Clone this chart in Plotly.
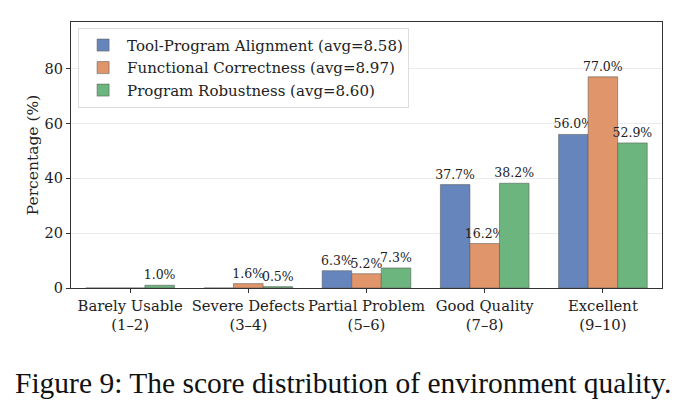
import plotly.graph_objects as go

categories = ["Barely Usable<br>(1–2)", "Severe Defects<br>(3–4)", "Partial Problem<br>(5–6)",
              "Good Quality<br>(7–8)", "Excellent<br>(9–10)"]
series_names = ["Tool-Program Alignment (avg=8.58)",
                "Functional Correctness (avg=8.97)",
                "Program Robustness (avg=8.60)"]
alignment = [0.0, 0.0, 6.3, 37.7, 56.0]
correctness = [0.0, 1.6, 5.2, 16.2, 77.0]
robustness = [1.0, 0.5, 7.3, 38.2, 52.9]
yticks = [0, 20, 40, 60, 80]

colors = ["rgb(102,133,188)", "rgb(225,149,106)", "rgb(108,181,126)"]
serif = "DejaVu Serif"

fig = go.Figure()
for name, vals, col in zip(series_names, [alignment, correctness, robustness], colors):
    fig.add_trace(go.Bar(
        x=categories, y=vals, name=name,
        marker=dict(color=col, line=dict(color="rgba(90,90,90,0.7)", width=0.8)),
        text=[f"{v:.1f}%" if v > 0 else "" for v in vals],
        textposition="outside", constraintext="none", cliponaxis=False,
        textfont=dict(family=serif, size=12.5, color="#222"),
    ))

fig.update_layout(
    width=686, height=413,
    margin=dict(l=71, r=24, t=22, b=125),
    paper_bgcolor="white", plot_bgcolor="white",
    barmode="group", bargap=0.25, bargroupgap=0,
    font=dict(family=serif, size=14, color="#222"),
    showlegend=True,
    legend=dict(x=0.012, y=0.978, xanchor="left", yanchor="top",
                bgcolor="rgba(255,255,255,0.9)", bordercolor="#dddddd", borderwidth=1,
                font=dict(family=serif, size=15), itemwidth=38, tracegroupgap=0),
    uniformtext=dict(mode=False),
)
fig.update_xaxes(showline=True, linecolor="#333", linewidth=1.2, mirror=True,
                 ticks="outside", ticklen=4, tickcolor="#333",
                 tickfont=dict(family=serif, size=14.8), showgrid=False)
fig.update_yaxes(range=[0, 97], tickvals=yticks, showline=True, linecolor="#333", linewidth=1.2,
                 mirror=True, ticks="outside", ticklen=4, tickcolor="#333",
                 showgrid=True, gridcolor="#ebebeb", gridwidth=1, zeroline=False,
                 tickfont=dict(family=serif, size=14.5),
                 title=dict(text="Percentage (%)", font=dict(family=serif, size=15.5), standoff=2))

fig.add_annotation(text="Figure 9: The score distribution of environment quality.",
                   xref="paper", yref="paper", x=0.5, y=0, xanchor="center", yanchor="middle",
                   yshift=-95, xshift=-24, showarrow=False,
                   font=dict(family="Liberation Serif", size=29.5, color="#111"))

fig.write_html("out.html")
